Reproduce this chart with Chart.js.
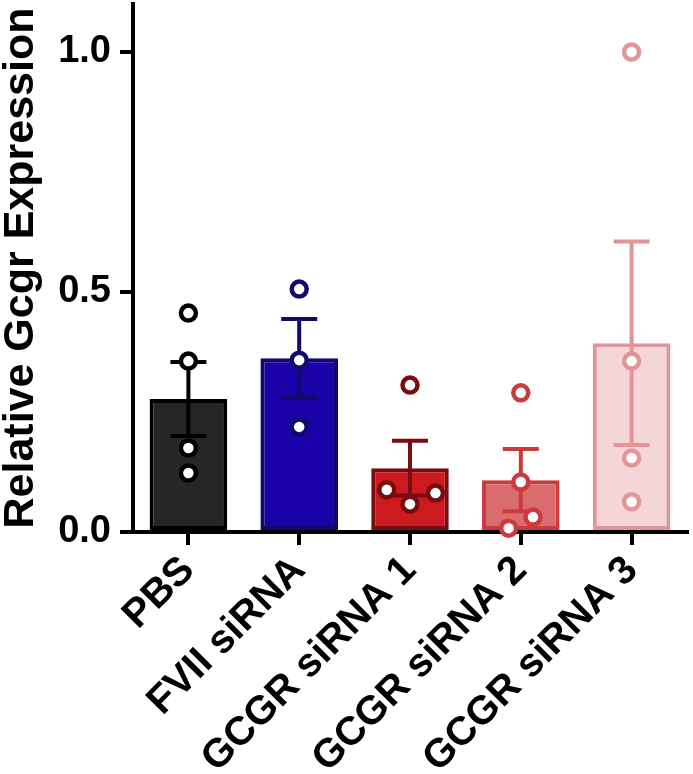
<!DOCTYPE html>
<html>
<head>
<meta charset="utf-8">
<script src="https://cdn.jsdelivr.net/npm/chart.js@4"></script>
<style>
  html, body { margin: 0; padding: 0; background: #fff; }
  #wrap { width: 693px; height: 774px; position: relative; }
</style>
</head>
<body>
<div id="wrap"><canvas id="c"></canvas></div>
<script>
const categories = ["PBS", "FVII siRNA", "GCGR siRNA 1", "GCGR siRNA 2", "GCGR siRNA 3"];
const means = [0.277, 0.362, 0.133, 0.108, 0.393];
const sems = [0.077, 0.082, 0.057, 0.065, 0.212];

// individual replicates: group index, value, horizontal jitter (category units)
const pointGroup = [0, 0, 0, 0, 1, 1, 1, 2, 2, 2, 2, 3, 3, 3, 3, 4, 4, 4, 4];
const pointValue = [0.456, 0.356, 0.175, 0.123, 0.506, 0.358, 0.219, 0.306, 0.088, 0.058, 0.081,
  0.290, 0.104, 0.031, 0.008, 1.0, 0.356, 0.154, 0.063];
const pointJitter = [0, 0, 0, 0, 0, 0, 0, 0, -0.21, 0, 0.23, 0, 0, 0.11, -0.11, 0, 0, 0, 0];

const yTicks = [0, 0.5, 1.0];

const fillColors = ["#262626", "#1a02a8", "#cc1a1e", "#da6b6f", "#f4d6d8"];
const lineColors = ["#000000", "#110a6a", "#7a0c10", "#cc3a3e", "#e29598"];

const FONT = "'Liberation Sans', Arial, Helvetica, sans-serif";

// SEM whiskers, drawn right after the bars so the dots sit on top
const errorBars = {
  id: "errorBars",
  afterDatasetDraw(chart, args) {
    if (args.index !== 0) return;
    const { ctx, scales } = chart;
    const x = scales.x, y = scales.y;
    ctx.save();
    ctx.lineWidth = 4;
    ctx.lineCap = "butt";
    means.forEach((m, i) => {
      const cx = x.getPixelForValue(i);
      const top = y.getPixelForValue(m + sems[i]);
      const bot = y.getPixelForValue(m - sems[i]);
      ctx.strokeStyle = lineColors[i];
      ctx.beginPath();
      ctx.moveTo(cx, top); ctx.lineTo(cx, bot);
      ctx.moveTo(cx - 18, top); ctx.lineTo(cx + 18, top);
      ctx.moveTo(cx - 18, bot); ctx.lineTo(cx + 18, bot);
      ctx.stroke();
    });
    ctx.restore();
  },
};

new Chart(document.getElementById("c"), {
  data: {
    labels: categories,
    datasets: [
      {
        type: "bar",
        data: means,
        backgroundColor: fillColors,
        borderColor: lineColors,
        borderWidth: 4,
        borderSkipped: false,
        grouped: false,
        barPercentage: 0.7,
        categoryPercentage: 1,
        order: 2,
      },
      {
        type: "scatter",
        xAxisID: "x2",
        data: pointValue.map((v, i) => ({ x: pointGroup[i] + pointJitter[i], y: v })),
        pointRadius: 7.5,
        pointBorderWidth: 4.5,
        pointBackgroundColor: "#ffffff",
        pointBorderColor: pointGroup.map((g) => lineColors[g]),
        clip: false,
        order: 1,
      },
    ],
  },
  options: {
    responsive: true,
    maintainAspectRatio: false,
    animation: false,
    layout: { autoPadding: false, padding: { left: 0, top: 4, right: 6, bottom: 0 } },
    plugins: { legend: { display: false }, tooltip: { enabled: false } },
    scales: {
      x: {
        type: "category",
        offset: true,
        border: { color: "#000", width: 4 },
        grid: { drawOnChartArea: false, drawTicks: true, tickLength: 13, color: "#000", lineWidth: 4, offset: false },
        ticks: {
          color: "#000", font: { family: FONT, size: 40, weight: "bold" },
          maxRotation: 45, minRotation: 45, padding: 2, autoSkip: false,
        },
        afterFit: (s) => { s.height = 242; s.paddingLeft = 0; s.paddingRight = 0; },
      },
      x2: { type: "linear", min: -0.5, max: 4.5, display: false },
      y: {
        min: 0,
        max: 1.1,
        border: { color: "#000", width: 4 },
        grid: { drawOnChartArea: false, drawTicks: true, tickLength: 13, color: "#000", lineWidth: 4 },
        ticks: {
          color: "#000", font: { family: FONT, size: 38, weight: "bold" }, padding: 9,
          callback: (v) => v.toFixed(1),
        },
        afterBuildTicks: (s) => { s.ticks = yTicks.map((v) => ({ value: v })); },
        title: {
          display: true, text: "Relative Gcgr Expression", color: "#000",
          font: { family: FONT, size: 43, weight: "bold", lineHeight: 1 }, padding: { top: 0, bottom: 0 },
        },
        afterFit: (s) => { s.width = 133; s.paddingTop = 0; s.paddingBottom = 0; },
      },
    },
  },
  plugins: [errorBars],
});
</script>
</body>
</html>
